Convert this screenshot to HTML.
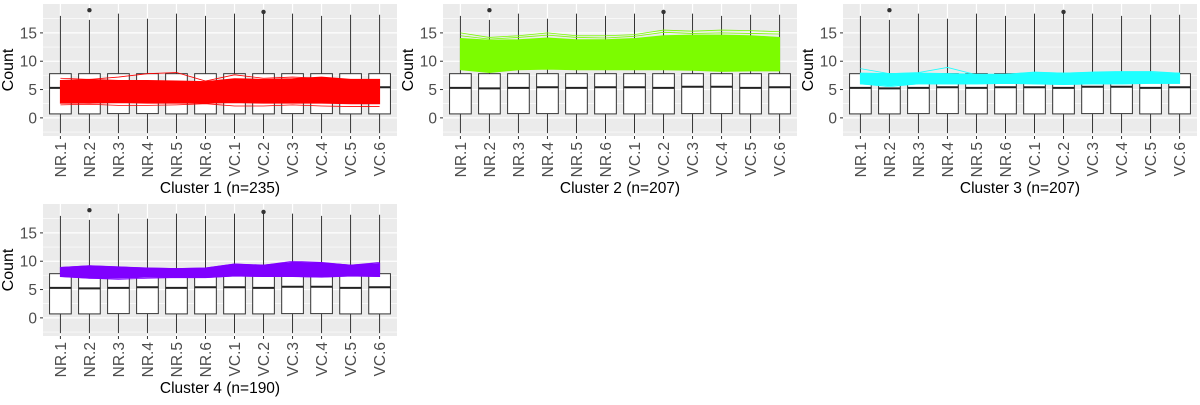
<!DOCTYPE html>
<html><head><meta charset="utf-8"><style>
body{margin:0;background:#fff;width:1200px;height:400px;overflow:hidden}
svg text{font-family:"Liberation Sans",sans-serif}
</style></head><body>
<svg id="chart" width="1200" height="400" xmlns="http://www.w3.org/2000/svg"></svg>
<script>
const categories=["NR.1","NR.2","NR.3","NR.4","NR.5","NR.6","VC.1","VC.2","VC.3","VC.4","VC.5","VC.6"];
const yTicks=[0,5,10,15];
const boxQ1=[0.7,0.7,0.75,0.75,0.7,0.7,0.7,0.7,0.75,0.75,0.7,0.7];
const boxMedian=[5.3,5.2,5.3,5.4,5.3,5.4,5.4,5.3,5.5,5.5,5.3,5.4];
const boxQ3=[7.8,7.8,7.8,7.8,7.8,7.8,7.8,7.8,7.8,7.8,7.8,7.8];
const whiskerHigh=[18,17.3,18.4,17.5,18.4,18,18.4,18.5,18.4,18,18.2,18.2];
const whiskerLow=[-2.7,-2.7,-2.7,-2.7,-2.7,-2.7,-2.7,-2.7,-2.7,-2.7,-2.7,-2.7];
const outlierCats=["NR.2","VC.2"];
const outlierVals=[19,18.7];
const clusterNames=["Cluster 1 (n=235)","Cluster 2 (n=207)","Cluster 3 (n=207)","Cluster 4 (n=190)"];
const clusterColors=["#ff0000","#7cfc00","#1effff","#7f00ff"];
const c1Low=[2.6,2.6,2.7,2.6,2.6,2.6,2.7,2.6,2.6,2.6,2.5,2.5];
const c1High=[6.6,6.8,6.6,6.6,6.5,6.4,6.9,6.8,6.9,7.2,6.8,6.8];
const c1LineA=[7,6.8,7.2,7.8,8,6.5,7.6,7,7.2,7,6.5,6.6];
const c1LineB=[2.3,2.4,2.2,2.2,2.3,2.5,2.1,2.1,2.3,2.1,2.0,2.0];
const c2Low=[8.5,8.0,8.5,8.6,8.5,8.5,8.5,8.5,8.4,8.2,8.3,8.3];
const c2High=[14,13.7,13.8,14.1,13.8,13.8,14,14.5,14.6,14.6,14.5,14.2];
const c2LineA=[15,14.2,14.5,15,14.5,14.5,14.7,15.5,15.3,15.5,15.4,15.2];
const c2LineB=[14.5,13.9,14.2,14.6,14.2,14.1,14.4,15.1,14.9,15.0,14.9,14.8];
const c3Low=[6.0,5.7,6.0,6.0,6.0,6.1,6.0,5.9,6.0,6.0,6.1,6.1];
const c3High=[7.9,7.8,7.9,7.8,7.7,7.7,8.0,7.9,8.0,8.0,8.0,7.9];
const c3LineA=[8.7,7.8,8.0,8.9,7.6,7.7,8.1,7.9,8.1,8.2,8.2,7.9];
const c3LineB=[6.0,5.5,6.0,6.0,6.0,6.1,6.0,5.9,6.0,6.0,6.1,6.1];
const c4Low=[7.3,7.0,7.0,7.2,7.1,7.1,7.4,7.3,7.3,7.2,7.4,7.3];
const c4High=[8.9,9.2,9.0,8.8,8.7,8.8,9.5,9.3,9.8,9.7,9.3,9.6];
const c4LineA=[8.9,9.2,9.0,8.8,8.7,8.8,9.5,9.3,10.0,9.8,9.3,9.8];
const c4LineB=[7.3,7.0,6.8,7.0,7.1,7.1,7.4,7.3,7.3,7.2,7.4,7.3];
const bandLow=[c1Low,c2Low,c3Low,c4Low];
const bandHigh=[c1High,c2High,c3High,c4High];
const extraLines=[[c1LineA,c1LineB],[c2LineA,c2LineB],[c3LineA,c3LineB],[c4LineA,c4LineB]];

const NS="http://www.w3.org/2000/svg";
const svg=document.getElementById("chart");
function mk(tag,attrs,parent){const e=document.createElementNS(NS,tag);for(const k in attrs)e.setAttribute(k,attrs[k]);(parent||svg).appendChild(e);return e;}
const panelPos=[[43,4],[443,4],[843,4],[43,204]];
const PW=354,PH=132,YMIN=-3.2,YMAX=20.1;

panelPos.forEach((p,pi)=>{
  const [L,T]=p;
  const g=mk("g",{});
  
  
  const xs=i=>L+(i+0.6)*PW/12.2;
  const ys=v=>T+PH-(v-YMIN)/(YMAX-YMIN)*PH;
  const bg=mk("rect",{x:L,y:T,width:PW,height:PH,fill:"#ebebeb"},g);
  
  
  for(let v=-2.5;v<20;v+=5){mk("line",{x1:L,x2:L+PW,y1:ys(v),y2:ys(v),stroke:"#fff","stroke-width":0.6},g);}
  yTicks.forEach(v=>{
    mk("line",{x1:L,x2:L+PW,y1:ys(v),y2:ys(v),stroke:"#fff","stroke-width":1.2},g);
    mk("line",{x1:L-3,x2:L,y1:ys(v),y2:ys(v),stroke:"#333","stroke-width":1},g);
    const t=mk("text",{x:L-6,y:ys(v)+5.5,"text-anchor":"end","font-size":15.5,fill:"#4d4d4d"},g);
    t.textContent=v;
    
    
  });
  categories.forEach((c,i)=>{
    const x=xs(i);
    mk("line",{x1:x,x2:x,y1:T,y2:T+PH,stroke:"#fff","stroke-width":1.2},g);
    mk("line",{x1:x,x2:x,y1:T+PH,y2:T+PH+3,stroke:"#333","stroke-width":1},g);
    const t=mk("text",{transform:`translate(${x+5.5},${T+PH+6}) rotate(-90)`,"text-anchor":"end","font-size":15.5,fill:"#4d4d4d"},g);
    t.textContent=c;
    
    
  });
  categories.forEach((c,i)=>{
    const x=xs(i),w=21.7;
    const bg2=mk("g",{},g);
    
    
    mk("line",{x1:x,x2:x,y1:ys(whiskerHigh[i]),y2:ys(boxQ3[i]),stroke:"#333","stroke-width":1},bg2);
    mk("line",{x1:x,x2:x,y1:ys(boxQ1[i]),y2:ys(whiskerLow[i]),stroke:"#333","stroke-width":1},bg2);
    mk("rect",{x:x-w/2,y:ys(boxQ3[i]),width:w,height:ys(boxQ1[i])-ys(boxQ3[i]),fill:"#fff",stroke:"#333","stroke-width":1},bg2);
    mk("line",{x1:x-w/2,x2:x+w/2,y1:ys(boxMedian[i]),y2:ys(boxMedian[i]),stroke:"#222","stroke-width":2},bg2);
  });
  outlierCats.forEach((c,k)=>{
    const d=mk("circle",{cx:xs(categories.indexOf(c)),cy:ys(outlierVals[k]),r:2.2,fill:"#333"},g);
    
    
  });
  const col=clusterColors[pi];
  const lo=bandLow[pi],hi=bandHigh[pi];
  let pts=hi.map((v,i)=>xs(i)+","+ys(v)).concat(lo.map((v,i)=>xs(i)+","+ys(v)).reverse());
  const band=mk("polygon",{points:pts.join(" "),fill:col,stroke:col,"stroke-width":1},g);
  
  
  extraLines[pi].forEach(arr=>{
    const pl=mk("polyline",{points:arr.map((v,i)=>xs(i)+","+ys(v)).join(" "),fill:"none",stroke:col,"stroke-width":0.8},g);
    
    
  });
  const yt=mk("text",{transform:`translate(${L-30},${T+PH/2}) rotate(-90)`,"text-anchor":"middle","font-size":16,fill:"#000"},g);
  yt.textContent="Count";
  
  
  const xt=mk("text",{x:L+PW/2,y:T+PH+57,"text-anchor":"middle","font-size":15.5,fill:"#000"},g);
  xt.textContent=clusterNames[pi];
  
  
});
</script>
</body></html>
